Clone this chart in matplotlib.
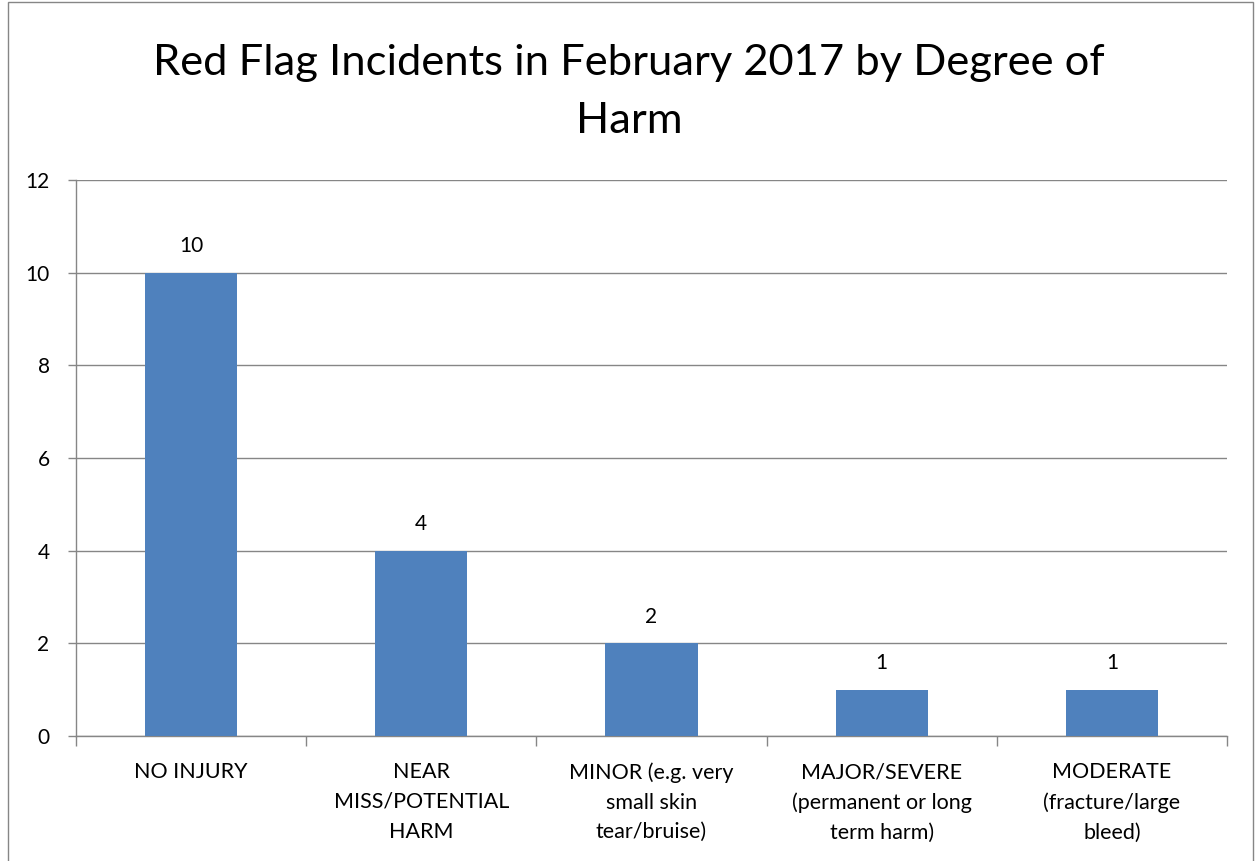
import matplotlib
matplotlib.use("Agg")
import matplotlib.pyplot as plt
from matplotlib.patches import Rectangle

categories = ["NO INJURY", "NEAR\nMISS/POTENTIAL\nHARM", "MINOR (e.g. very\nsmall skin\ntear/bruise)",
              "MAJOR/SEVERE\n(permanent or long\nterm harm)", "MODERATE\n(fracture/large\nbleed)"]
values = [10, 4, 2, 1, 1]
yticks = [0, 2, 4, 6, 8, 10, 12]
title = "Red Flag Incidents in February 2017 by Degree of\nHarm"

plt.rcParams['font.family'] = ['Lato', 'DejaVu Sans']
fig = plt.figure(figsize=(12.58, 8.61), dpi=100)
ax = fig.add_axes([0.0604, 0.1452, 0.9754 - 0.0604, 0.7909 - 0.1452])

grid_c = "#868686"
x = list(range(len(values)))
ax.bar(x, values, width=0.4, color="#4F81BD", zorder=3)
ax.set_xlim(-0.5, len(values) - 0.5)
ax.set_ylim(0, 12)
ax.set_yticks(yticks)
ax.set_yticklabels([str(t) for t in yticks], fontsize=15, color="black")
ax.yaxis.grid(True, color=grid_c, linewidth=1, zorder=0)
ax.tick_params(axis='y', length=6, color=grid_c, width=1, pad=13)
ax.set_xticks([i - 0.5 for i in range(len(values) + 1)])
ax.set_xticklabels([])
ax.tick_params(axis='x', length=7, color=grid_c, width=1)
for i, lab in enumerate(categories):
    ax.annotate(lab, xy=(i, 0), xycoords=('data', 'data'), xytext=(0, -19), textcoords='offset points',
                ha='center', va='top', fontsize=15.5, linespacing=1.6, color="black")
for s in ['top', 'right']:
    ax.spines[s].set_visible(False)
for s in ['left', 'bottom']:
    ax.spines[s].set_color(grid_c)
    ax.spines[s].set_linewidth(1)
for i, v in enumerate(values):
    ax.annotate(str(v), xy=(i, v), xytext=(0, 12), textcoords='offset points',
                ha='center', va='bottom', fontsize=15, color="black")

fig.text(0.5, 1 - 92 / 861, title, ha='center', va='center', fontsize=31.3, linespacing=1.65, color="black")
fig.patches.append(Rectangle((0.0064, -0.01), 0.9896, 1.008, transform=fig.transFigure,
                             fill=False, edgecolor=grid_c, linewidth=1))
fig.savefig("out.png", dpi=100, facecolor="white")
